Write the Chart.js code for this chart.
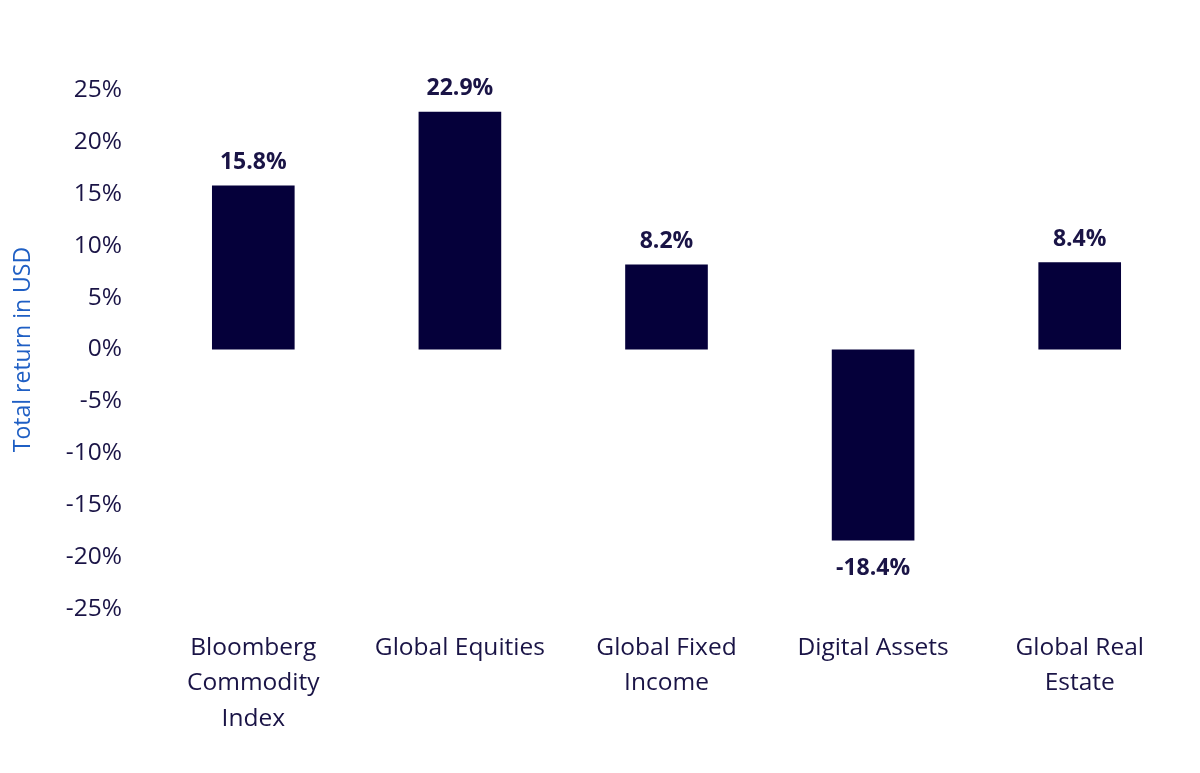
<!DOCTYPE html>
<html>
<head>
<meta charset="utf-8">
<script src="https://cdn.jsdelivr.net/npm/chart.js@4"></script>
<style>
  html, body { margin: 0; padding: 0; background: #fff; }
  #wrap { width: 1200px; height: 773px; }
</style>
</head>
<body>
<div id="wrap"><canvas id="chart"></canvas></div>
<script>
// asset classes and their total returns (%)
const categories = [
    ['Bloomberg', 'Commodity', 'Index'],
    'Global Equities',
    ['Global Fixed', 'Income'],
    'Digital Assets',
    ['Global Real', 'Estate']
];
const returns = [15.8, 22.9, 8.2, -18.4, 8.4];
const yTicks = [-25, -20, -15, -10, -5, 0, 5, 10, 15, 20, 25];

const NAVY = '#05003a';
const TEXT = '#1a1446';
const FONT = "'Open Sans', sans-serif";

// draws the value above (or below, for negatives) each bar
const valueLabels = {
    id: 'valueLabels',
    afterDatasetsDraw(chart) {
        const ctx = chart.ctx;
        const meta = chart.getDatasetMeta(0);
        ctx.save();
        ctx.font = `bold 23px ${FONT}`;
        ctx.fillStyle = TEXT;
        ctx.textAlign = 'center';
        ctx.textBaseline = 'middle';
        meta.data.forEach((bar, i) => {
            const v = returns[i];
            const y = v >= 0 ? bar.y - 23 : bar.y + 28;
            ctx.fillText(v.toFixed(1) + '%', bar.x, y);
        });
        ctx.restore();
    }
};

new Chart(document.getElementById('chart'), {
    type: 'bar',
    data: {
        labels: categories,
        datasets: [{
            data: returns,
            backgroundColor: NAVY,
            borderWidth: 0,
            barPercentage: 0.8,
            categoryPercentage: 0.5
        }]
    },
    options: {
        responsive: true,
        maintainAspectRatio: false,
        animation: false,
        layout: { padding: { top: 90, right: 17, bottom: 0, left: 0 } },
        plugins: {
            legend: { display: false },
            tooltip: { enabled: false }
        },
        scales: {
            x: {
                grid: { display: false, drawTicks: false },
                border: { display: false },
                ticks: {
                    color: TEXT,
                    font: { family: FONT, size: 24.5, lineHeight: 1.45 },
                    padding: 21,
                    maxRotation: 0,
                    autoSkip: false
                },
                afterFit(scale) { scale.height = 164; }
            },
            y: {
                min: -25,
                max: 25,
                afterBuildTicks(scale) {
                    scale.ticks = yTicks.map(v => ({ value: v }));
                },
                grid: { display: false, drawTicks: false },
                border: { display: false },
                ticks: {
                    color: TEXT,
                    font: { family: FONT, size: 24.5 },
                    padding: 28,
                    callback: v => v + '%'
                },
                title: {
                    display: true,
                    text: 'Total return in USD',
                    color: '#1f5fc4',
                    font: { family: FONT, size: 23 },
                    padding: { top: 10, bottom: 0 }
                },
                afterFit(scale) { scale.width = 150; }
            }
        }
    },
    plugins: [valueLabels]
});
</script>
</body>
</html>
